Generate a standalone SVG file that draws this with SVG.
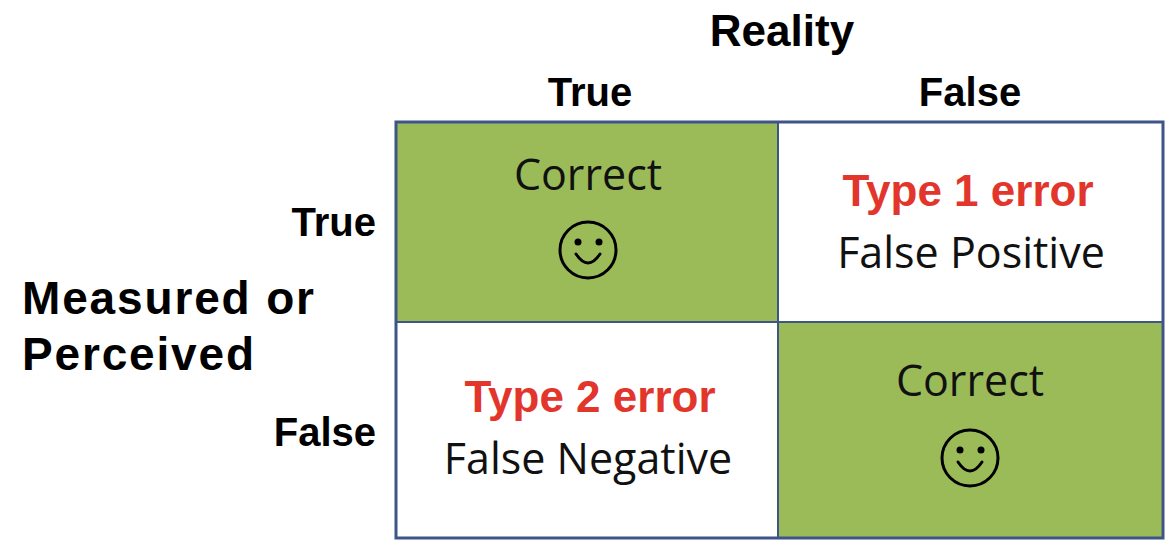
<svg xmlns="http://www.w3.org/2000/svg" width="1176" height="548" viewBox="0 0 1176 548">
<style>
.h{font-family:"Liberation Sans",Arial,sans-serif;font-weight:bold;fill:#000}
.c{font-family:"Open Sans","Liberation Sans",sans-serif;font-size:43px;fill:#111;text-anchor:middle}
.r{font-family:"Liberation Sans",Arial,sans-serif;font-weight:bold;font-size:44px;fill:#E2362C;text-anchor:middle}
.g{fill:#9BBB59}
.sm circle.f{fill:none;stroke:#000;stroke-width:3}
.sm path{fill:none;stroke:#000;stroke-width:3;stroke-linecap:round}
</style>
<rect width="1176" height="548" fill="#fff"/>
<g id="labels">
<text class="h" x="782" y="46" font-size="44" text-anchor="middle">Reality</text>
<text class="h" x="590" y="106" font-size="40" text-anchor="middle">True</text>
<text class="h" x="970" y="106" font-size="40" text-anchor="middle">False</text>
<text class="h" x="376" y="236" font-size="40" text-anchor="end">True</text>
<text class="h" x="376" y="446" font-size="40" text-anchor="end">False</text>
<text class="h" x="22" y="314" font-size="46" textLength="292">Measured or</text>
<text class="h" x="22" y="370" font-size="46" textLength="232">Perceived</text>
</g>
<g id="cell-tt">
<rect class="g" x="396" y="122" width="382" height="200"/>
<text class="c" x="588" y="190">Correct</text>
<g class="sm"><circle class="f" cx="588" cy="250" r="28"/><circle cx="578" cy="242" r="3.5"/><circle cx="599" cy="242" r="3.5"/><path d="M576 254 Q588 272 600 254"/></g>
</g>
<g id="cell-tf">
<text class="r" x="968" y="206">Type 1 error</text>
<text class="c" x="971" y="268">False Positive</text>
</g>
<g id="cell-ft">
<text class="r" x="590" y="412">Type 2 error</text>
<text class="c" x="588" y="474">False Negative</text>
</g>
<g id="cell-ff">
<rect class="g" x="778" y="322" width="385" height="216"/>
<text class="c" x="970" y="396">Correct</text>
<g class="sm"><circle class="f" cx="970" cy="458" r="28"/><circle cx="960" cy="450" r="3.5"/><circle cx="981" cy="450" r="3.5"/><path d="M958 462 Q970 480 982 462"/></g>
</g>
<g id="grid" fill="none" stroke="#3D5587" stroke-width="3">
<rect x="396" y="122" width="767" height="416"/>
<line x1="778" y1="122" x2="778" y2="538" stroke-width="2"/>
<line x1="396" y1="322" x2="1163" y2="322" stroke-width="2"/>
</g>
</svg>
